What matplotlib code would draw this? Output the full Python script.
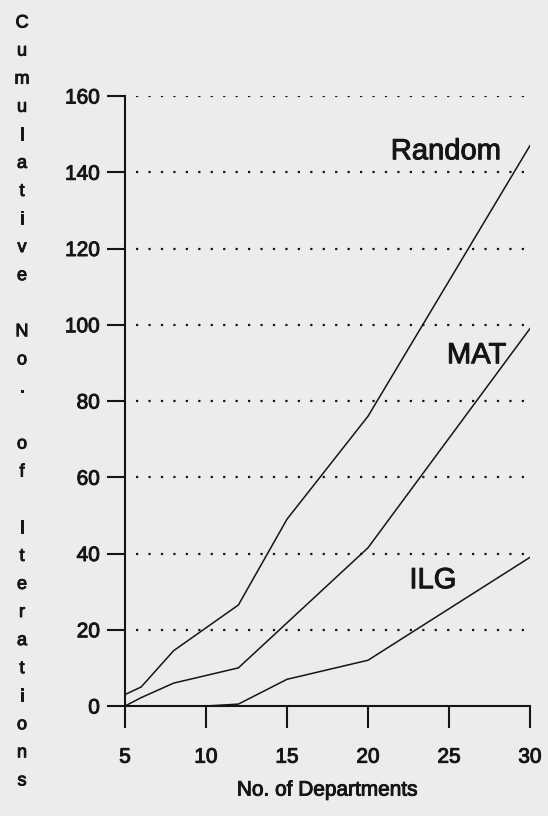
import numpy as np
import matplotlib
matplotlib.use("Agg")
import matplotlib.pyplot as plt
import matplotlib.patheffects as pe

"DATA"
x_random = [5, 6, 8, 12, 15, 20, 30]
y_random = [3, 5, 14.5, 26.5, 49, 76, 147]

x_mat = [5, 6, 8, 10, 12, 20, 30]
y_mat = [0, 2.2, 6, 8, 10, 41.5, 99]

x_ilg = [5, 10, 12, 15, 20, 30]
y_ilg = [0, 0, 0.5, 7, 12, 39]

xticks = [5, 10, 15, 20, 25, 30]
yticks = [0, 20, 40, 60, 80, 100, 120, 140, 160]
ylabel = "Cumulative No. of Iterations"
xlabel = "No. of Departments"

"STYLE"
bg = "#ececec"
ink = "#151515"
plt.rcParams["font.family"] = ["Liberation Sans", "DejaVu Sans"]
heavy = [pe.withStroke(linewidth=0.7, foreground=ink)]  # scanned print looks a bit heavier

W, H = 548, 816
fig = plt.figure(figsize=(W / 100, H / 100), dpi=100, facecolor=bg)
# axes box in pixels: x 125..530, y 96..706
ax = fig.add_axes([125 / W, 1 - 706 / H, (530 - 125) / W, (706 - 96) / H])
ax.set_facecolor(bg)

ax.plot(x_random, y_random, color=ink, lw=1.1)
ax.plot(x_mat, y_mat, color=ink, lw=1.1)
ax.plot(x_ilg, y_ilg, color=ink, lw=1.1)

# dotted reference lines
ax.hlines(yticks[1:], 5.7, 30, colors=ink, lw=1.6, linestyles=(0, (1, 4.6)))

for tx, ty, s in [(24.8, 145.5, "Random"), (26.7, 92, "MAT"), (24.0, 33, "ILG")]:
    ax.text(tx, ty, s, fontsize=21, ha="center", va="center", color=ink,
            path_effects=heavy)

ax.set_xlim(5, 30)
ax.set_ylim(0, 160)
ax.set_xticks(xticks)
ax.set_yticks(yticks)
for s in ["top", "right"]:
    ax.spines[s].set_visible(False)
for s in ["left", "bottom"]:
    ax.spines[s].set_linewidth(1.5)
    ax.spines[s].set_color(ink)
ax.tick_params(axis="x", length=16, width=1.5, pad=14, labelsize=15, colors=ink)
ax.tick_params(axis="y", length=13, width=1.5, pad=5, labelsize=15, colors=ink)
for lab in ax.get_xticklabels() + ax.get_yticklabels():
    lab.set_path_effects(heavy)
ax.set_xlabel(xlabel, fontsize=15, color=ink, labelpad=10, path_effects=heavy)

# vertical stacked y label
for i, ch in enumerate(ylabel):
    fig.text(22 / W, 1 - (23 + i * 28.07) / H, ch, fontsize=13,
             ha="center", va="center", color=ink, path_effects=heavy)

fig.savefig("out.png", dpi=100, facecolor=bg)
